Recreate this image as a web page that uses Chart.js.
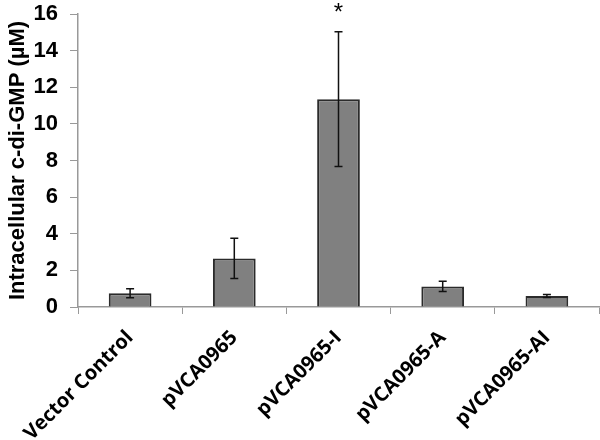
<!DOCTYPE html>
<html>
<head>
<meta charset="utf-8">
<script src="https://cdn.jsdelivr.net/npm/chart.js@4/dist/chart.umd.min.js"></script>
<style>
  html, body { margin: 0; padding: 0; background: #fff; }
  #grafico-box { width: 600px; height: 440px; }
</style>
</head>
<body>
<div id="grafico-box"><canvas id="grafico"></canvas></div>
<script>
// Dados
const categorias = ['Vector Control', 'pVCA0965', 'pVCA0965-I', 'pVCA0965-A', 'pVCA0965-AI'];
const medias = [0.75, 2.65, 11.35, 1.12, 0.6];
const erros = [0.25, 1.1, 3.68, 0.28, 0.08];
const marcas = ['', '', '*', '', ''];  // asterisco de significância
const ticksY = [0, 2, 4, 6, 8, 10, 12, 14, 16];

// Plugin simples para desenhar as barras de erro e o asterisco
const barrasErro = {
  id: 'barrasErro',
  afterDatasetsDraw(chart) {
    const ctx = chart.ctx;
    const escalaY = chart.scales.y;
    const meta = chart.getDatasetMeta(0);

    ctx.save();
    ctx.strokeStyle = '#111';
    ctx.lineWidth = 1.5;

    meta.data.forEach(function(barra, i) {
      const x = barra.x;
      const topo = escalaY.getPixelForValue(medias[i] + erros[i]);
      const base = escalaY.getPixelForValue(medias[i] - erros[i]);

      ctx.beginPath();
      ctx.moveTo(x, topo);
      ctx.lineTo(x, base);
      ctx.moveTo(x - 4, topo);
      ctx.lineTo(x + 4, topo);
      ctx.moveTo(x - 4, base);
      ctx.lineTo(x + 4, base);
      ctx.stroke();

      if (marcas[i]) {
        ctx.fillStyle = '#000';
        ctx.font = '24px "Liberation Sans", Arial, sans-serif';
        ctx.textAlign = 'center';
        ctx.textBaseline = 'top';
        ctx.fillText(marcas[i], x, topo - 30);
      }
    });
    ctx.restore();
  }
};

const ctx = document.getElementById('grafico');

new Chart(ctx, {
  type: 'bar',
  data: {
    labels: categorias,
    datasets: [{
      data: medias,
      backgroundColor: '#808080',
      borderColor: '#2b2b2b',
      borderWidth: 2,
      barPercentage: 0.41,
      categoryPercentage: 1
    }]
  },
  options: {
    responsive: true,
    maintainAspectRatio: false,
    animation: false,
    devicePixelRatio: 1,
    layout: { padding: { top: 14, right: 1, left: 0, bottom: 0 } },
    plugins: {
      legend: { display: false },
      tooltip: { enabled: false }
    },
    scales: {
      x: {
        grid: {
          offset: true,
          drawOnChartArea: false,
          drawTicks: true,
          tickLength: 7,
          color: '#999'
        },
        border: { color: '#999', width: 1.5 },
        ticks: {
          color: '#000',
          minRotation: 45,
          maxRotation: 45,
          padding: 12,
          font: { family: '"Open Sans", sans-serif', size: 20, weight: 'bold' }
        },
        afterFit: function(escala) { escala.height = 133; }
      },
      y: {
        min: 0,
        max: 16,
        afterBuildTicks: function(escala) {
          escala.ticks = ticksY.map(function(v) { return { value: v }; });
        },
        grid: {
          drawOnChartArea: false,
          drawTicks: true,
          tickLength: 8,
          color: '#999'
        },
        border: { color: '#999', width: 1.5 },
        ticks: {
          color: '#000',
          padding: 12,
          font: { family: '"Liberation Sans", Arial, sans-serif', size: 22, weight: 'bold' }
        },
        title: {
          display: true,
          text: 'Intracellular c-di-GMP (µM)',
          color: '#000',
          padding: { top: 5, bottom: 0 },
          font: { family: '"Liberation Sans", Arial, sans-serif', size: 22, weight: 'bold' }
        },
        afterFit: function(escala) {
          escala.width = 78;
          // sem folga extra em cima/baixo, o layout.padding cuida disso
          escala.paddingTop = 0;
          escala.paddingBottom = 0;
        }
      }
    }
  },
  plugins: [barrasErro]
});
</script>
</body>
</html>
